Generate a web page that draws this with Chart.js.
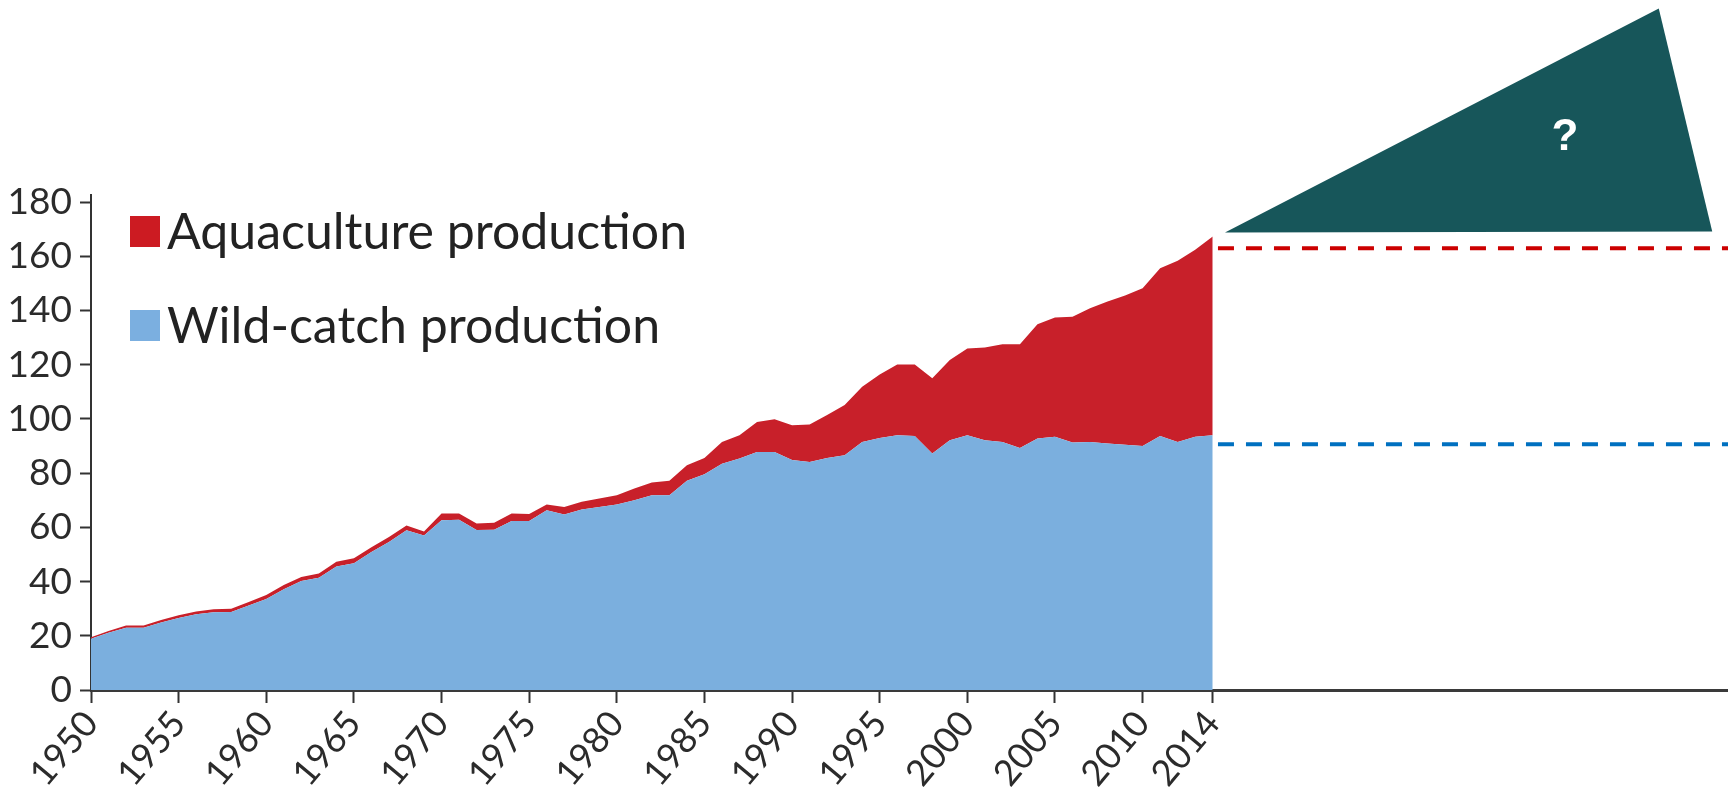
<!DOCTYPE html>
<html>
<head>
<meta charset="utf-8">
<script src="https://cdn.jsdelivr.net/npm/chart.js@4/dist/chart.umd.min.js"></script>
<style>
  html, body { margin: 0; padding: 0; background: #fff; }
  #wrap { width: 1728px; height: 808px; }
</style>
</head>
<body>
<div id="wrap"><canvas id="fishChart" width="1728" height="808"></canvas></div>
<script>
// World fish production, million tonnes
const years = [];
for (let y = 1950; y <= 2014; y++) years.push(y);

const wildCatch = [
  18.9, 21.1, 23.0, 23.0, 24.9, 26.6, 27.9, 28.7, 28.8, 31.2,
  33.6, 37.2, 40.2, 41.4, 45.6, 46.8, 50.9, 54.6, 58.9, 57.0,
  62.6, 62.8, 59.0, 59.1, 62.3, 62.3, 66.3, 64.7, 66.6, 67.5,
  68.4, 70.0, 71.8, 71.8, 77.2, 79.6, 83.5, 85.4, 87.8, 87.8,
  84.8, 84.1, 85.6, 86.6, 91.5, 93.0, 94.0, 93.7, 87.2, 92.1,
  94.0, 92.1, 91.5, 89.3, 92.8, 93.4, 91.3, 91.5, 90.9, 90.5,
  90.0, 93.7, 91.5, 93.4, 94.0
];

const aquaculture = [
  0.6, 0.7, 0.8, 0.8, 0.9, 1.0, 1.1, 1.1, 1.2, 1.3,
  1.4, 1.5, 1.5, 1.6, 1.7, 1.8, 1.8, 1.8, 1.8, 1.5,
  2.5, 2.3, 2.4, 2.6, 2.8, 2.6, 2.1, 2.8, 2.8, 3.1,
  3.4, 4.3, 4.7, 5.4, 5.7, 6.0, 8.0, 8.6, 11.1, 12.1,
  12.9, 13.8, 15.8, 18.5, 20.4, 23.4, 26.1, 26.4, 27.8, 29.6,
  32.0, 34.2, 36.0, 38.2, 42.1, 44.0, 46.4, 49.3, 52.4, 55.0,
  58.2, 61.9, 66.8, 69.0, 73.3
];

const xTicks = [1950, 1955, 1960, 1965, 1970, 1975, 1980, 1985, 1990, 1995, 2000, 2005, 2010, 2014];
const yTicks = [0, 20, 40, 60, 80, 100, 120, 140, 160, 180];

// reference levels drawn to the right of the data
const refYears = [2014.3, 2043.4];
const totalLevel = 163.0;
const wildLevel = 90.7;

// the "?" wedge, in data units
const wedgeX = [2014.7, 2039.45, 2042.5];
const wedgeY = [168.8, 251.4, 169.1];
const wedgeLabel = { x: 2034.1, y: 203.6, text: '?' };

const FONT = "Lato, 'Noto Sans', sans-serif";
Chart.defaults.font.family = FONT;
Chart.defaults.color = '#2b2b2b';

const legendItems = [
  { label: 'Aquaculture production', color: '#cc1b22' },
  { label: 'Wild-catch production', color: '#7bafe0' }
];

const legendPlugin = {
  id: 'sideLegend',
  afterDraw(chart) {
    const ctx = chart.ctx;
    ctx.save();
    ctx.font = '50px ' + FONT;
    ctx.textBaseline = 'alphabetic';
    legendItems.forEach((item, i) => {
      const top = 216 + i * 94;
      ctx.fillStyle = item.color;
      ctx.fillRect(130, top, 30, 31);
      ctx.fillStyle = '#222';
      ctx.fillText(item.label, 167, top + 33);
    });
    ctx.restore();
  }
};

const wedgePlugin = {
  id: 'wedge',
  afterDatasetsDraw(chart) {
    const { ctx, scales } = chart;
    ctx.save();
    ctx.beginPath();
    wedgeX.forEach((v, i) => {
      const px = scales.x.getPixelForValue(v);
      const py = scales.y.getPixelForValue(wedgeY[i]);
      if (i === 0) ctx.moveTo(px, py); else ctx.lineTo(px, py);
    });
    ctx.closePath();
    ctx.fillStyle = '#17565a';
    ctx.fill();
    ctx.fillStyle = '#fff';
    ctx.font = "bold 44px 'Liberation Sans', Arial, sans-serif";
    ctx.textAlign = 'center';
    ctx.textBaseline = 'middle';
    ctx.fillText(wedgeLabel.text, scales.x.getPixelForValue(wedgeLabel.x), scales.y.getPixelForValue(wedgeLabel.y));
    ctx.restore();
  }
};

const data = {
  datasets: [{
    label: 'Wild-catch production',
    data: years.map((y, i) => ({ x: y, y: wildCatch[i] })),
    stack: 'fish',
    backgroundColor: '#7bafde',
    borderWidth: 0,
    pointRadius: 0,
    fill: 'origin',
    tension: 0
  }, {
    label: 'Aquaculture production',
    data: years.map((y, i) => ({ x: y, y: aquaculture[i] })),
    stack: 'fish',
    backgroundColor: '#c8202a',
    borderWidth: 0,
    pointRadius: 0,
    fill: '-1',
    tension: 0
  }, {
    label: 'total level',
    data: refYears.map(x => ({ x: x, y: totalLevel })),
    stack: 'refTotal',
    borderColor: '#cc0000',
    borderWidth: 4,
    borderDash: [16, 12],
    pointRadius: 0,
    fill: false
  }, {
    label: 'wild level',
    data: refYears.map(x => ({ x: x, y: wildLevel })),
    stack: 'refWild',
    borderColor: '#0070c0',
    borderWidth: 4,
    borderDash: [16, 12],
    pointRadius: 0,
    fill: false
  }]
};

const options = {
  type: 'line',
  data,
  options: {
    responsive: false,
    animation: false,
    events: [],
    layout: { padding: { top: 195, left: 0, right: 0, bottom: 0 } },
    plugins: {
      legend: { display: false },
      tooltip: { enabled: false }
    },
    scales: {
      x: {
        type: 'linear',
        min: 1950,
        max: 2043.4,
        afterBuildTicks: s => { s.ticks = xTicks.map(v => ({ value: v })); },
        afterFit: s => { s.height = 118; },
        grid: { drawOnChartArea: false, drawTicks: true, tickLength: 13, tickWidth: 2, color: '#333' },
        border: { display: true, color: '#3a3a3a', width: 3 },
        ticks: {
          autoSkip: false,
          minRotation: 50,
          maxRotation: 50,
          padding: 0,
          font: { size: 36 },
          callback: v => String(v)
        }
      },
      y: {
        stacked: true,
        min: 0,
        max: 182.6,
        afterBuildTicks: s => { s.ticks = yTicks.map(v => ({ value: v })); },
        afterFit: s => { s.width = 91; },
        grid: { drawOnChartArea: false, drawTicks: true, tickLength: 11, tickWidth: 2, color: '#333' },
        border: { display: true, color: '#333', width: 2 },
        ticks: {
          padding: 8,
          font: { size: 37 },
          callback: v => String(v)
        }
      }
    }
  },
  plugins: [legendPlugin, wedgePlugin]
};

let fishChart = new Chart(document.getElementById('fishChart'), options);
</script>
</body>
</html>
